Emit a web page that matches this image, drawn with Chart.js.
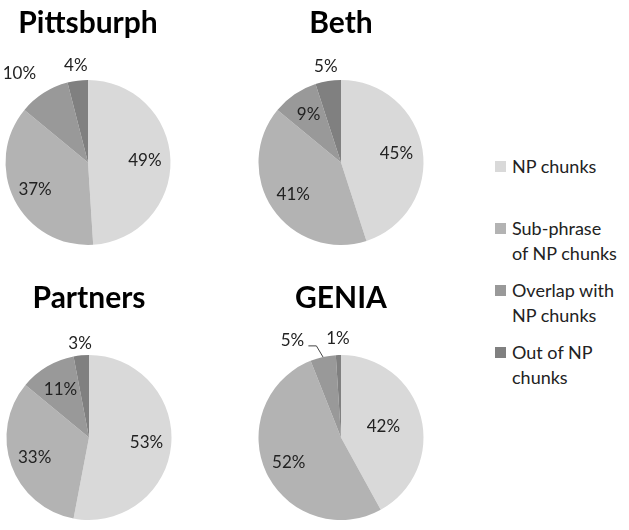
<!DOCTYPE html>
<html>
<head>
<meta charset="utf-8">
<script src="https://cdn.jsdelivr.net/npm/chart.js@4"></script>
<style>
  body { margin: 0; background: #fff; overflow: hidden; }
  #wrap { position: relative; width: 629px; height: 530px; overflow: hidden; }
  .pie { position: absolute; width: 200px; height: 265px; }
  #legend { position: absolute; left: 495px; top: 154px; font-family: Lato, sans-serif; font-size: 18px; color: #222; }
  .item { display: flex; align-items: flex-start; height: 62px; }
  .box { width: 11px; height: 11px; margin-top: 7px; margin-right: 6px; flex: none; }
  .txt { white-space: nowrap; line-height: 25px; }
</style>
</head>
<body>
<div id="wrap">
  <div class="pie" style="left:-12px; top:0px;"><canvas id="c1"></canvas></div>
  <div class="pie" style="left:241px; top:0px;"><canvas id="c2"></canvas></div>
  <div class="pie" style="left:-11px; top:275px;"><canvas id="c3"></canvas></div>
  <div class="pie" style="left:241px; top:275px;"><canvas id="c4"></canvas></div>
  <div id="legend"></div>
</div>
<script>
const categories = ['NP chunks', 'Sub-phrase of NP chunks', 'Overlap with NP chunks', 'Out of NP chunks'];
const legendLines = [['NP chunks'], ['Sub-phrase', 'of NP chunks'], ['Overlap with', 'NP chunks'], ['Out of NP', 'chunks']];
const titles = ['Pittsburph', 'Beth', 'Partners', 'GENIA'];
const pittsburph = [49, 37, 10, 4];
const beth = [45, 41, 9, 5];
const partners = [53, 33, 11, 3];
const genia = [42, 52, 5, 1];

const colors = ['#d9d9d9', '#b3b3b3', '#999999', '#808080'];

// label radius (as fraction of pie radius) and extra x shift per slice
const labelPos = [
  { r: [0.69, 0.72, 1.28, 1.18], dx: [0, 0, -12, 0] },
  { r: [0.68, 0.7, 0.7, 1.18], dx: [0, 0, 0, 0] },
  { r: [0.7, 0.7, 0.68, 1.15], dx: [0, 0, 0, 0] },
  { r: [0.53, 0.7, 1.2, 1.2], dx: [0, 0, -27, 0], leader: 2 }
];

const pctLabels = {
  id: 'pctLabels',
  afterDatasetsDraw(chart, args, opts) {
    const ctx = chart.ctx;
    const meta = chart.getDatasetMeta(0);
    const vals = chart.data.datasets[0].data;
    ctx.save();
    ctx.font = '17px Lato, sans-serif';
    ctx.fillStyle = '#222';
    ctx.textAlign = 'center';
    ctx.textBaseline = 'middle';
    meta.data.forEach((arc, i) => {
      const p = arc.getProps(['x', 'y', 'startAngle', 'endAngle', 'outerRadius'], true);
      const mid = (p.startAngle + p.endAngle) / 2;
      const R = p.outerRadius;
      const lx = p.x + Math.cos(mid) * R * opts.pos.r[i] + opts.pos.dx[i];
      const ly = p.y + Math.sin(mid) * R * opts.pos.r[i];
      ctx.fillText(vals[i] + '%', lx, ly);
      if (opts.pos.leader === i) {
        const ex = p.x + Math.cos(mid) * R;
        const ey = p.y + Math.sin(mid) * R;
        ctx.strokeStyle = '#444';
        ctx.lineWidth = 1;
        ctx.beginPath();
        ctx.moveTo(lx + 16, ly + 5);
        ctx.lineTo(lx + 24, ly + 5);
        ctx.lineTo(ex, ey);
        ctx.stroke();
      }
    });
    ctx.restore();
  }
};

function makePie(id, title, values, pos) {
  new Chart(document.getElementById(id), {
    type: 'pie',
    data: {
      labels: categories,
      datasets: [{
        data: values,
        backgroundColor: colors,
        borderWidth: 0
      }]
    },
    options: {
      responsive: true,
      maintainAspectRatio: false,
      animation: false,
      layout: { padding: { bottom: 20 } },
      plugins: {
        legend: { display: false },
        tooltip: { enabled: false },
        title: {
          display: true,
          text: title,
          color: '#000',
          font: { family: 'Lato, sans-serif', size: 30, weight: 'bold' },
          padding: { top: 5, bottom: 39 }
        },
        pctLabels: { pos: pos }
      }
    },
    plugins: [pctLabels]
  });
}

makePie('c1', titles[0], pittsburph, labelPos[0]);
makePie('c2', titles[1], beth, labelPos[1]);
makePie('c3', titles[2], partners, labelPos[2]);
makePie('c4', titles[3], genia, labelPos[3]);

const legend = document.getElementById('legend');
categories.forEach((c, i) => {
  const item = document.createElement('div');
  item.className = 'item';
  const box = document.createElement('div');
  box.className = 'box';
  box.style.background = colors[i];
  const txt = document.createElement('div');
  txt.className = 'txt';
  txt.innerHTML = legendLines[i].join('<br>');
  item.appendChild(box);
  item.appendChild(txt);
  legend.appendChild(item);
});
</script>
</body>
</html>
